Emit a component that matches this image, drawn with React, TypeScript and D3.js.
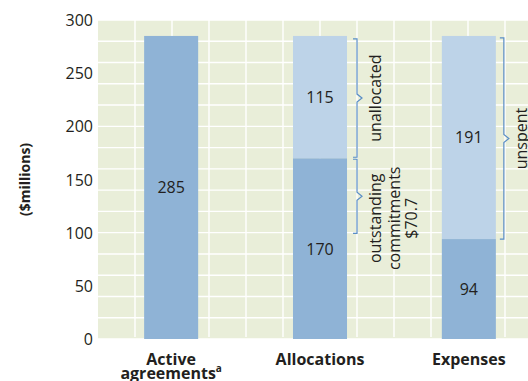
import React from "react";
import * as d3 from "d3";

// Funding overview ($ millions)
const categories = ["Active agreements", "Allocations", "Expenses"];
const lowerValues = [285, 170, 94]; // darker, lower segment
const upperValues = [0, 115, 191]; // lighter, upper segment
const yTicks = [0, 50, 100, 150, 200, 250, 300];
const categoryLines = [["Active", "agreements"], ["Allocations"], ["Expenses"]];
const outstandingCommitments = 70.7;

const W = 528;
const H = 381;
const plot = { left: 98, right: 528, top: 20, bottom: 339 };
const gridStep = 37;

const darkBlue = "#8fb3d6";
const lightBlue = "#bdd3e8";
const bgColor = "#e9eed9";
const braceColor = "#5a8ec6";
const textColor = "#231f20";
const font = "'Open Sans', 'Noto Sans', sans-serif";

function bracePath(x: number, y1: number, y2: number): string {
  const mid = (y1 + y2) / 2;
  const hook = 4;
  const tip = 5;
  return [
    `M${x - hook},${y1}`,
    `L${x},${y1}`,
    `L${x},${mid - 4}`,
    `L${x + tip},${mid}`,
    `L${x},${mid + 4}`,
    `L${x},${y2}`,
    `L${x - hook},${y2}`,
  ].join(" ");
}

export default function App() {
  const y = d3.scaleLinear().domain([0, 300]).range([plot.bottom, plot.top]);
  const x = d3
    .scaleBand<string>()
    .domain(categories)
    .range([98, 542])
    .paddingInner(0.637)
    .paddingOuter(0.31);
  const bw = x.bandwidth();

  const hGrid = y.ticks(12);
  const vGrid = d3.range(plot.left + gridStep, plot.right, gridStep);

  const alloc = categories[1];
  const expn = categories[2];
  const allocRight = (x(alloc) ?? 0) + bw;
  const expRight = (x(expn) ?? 0) + bw;
  const allocBraceX = allocRight + 10;
  const expBraceX = expRight + 8;

  const allocTop = lowerValues[1] + upperValues[1];
  const expTop = lowerValues[2] + upperValues[2];

  const unallocY1 = y(allocTop) + 3;
  const unallocY2 = y(lowerValues[1]) - 1;
  const commitY1 = y(lowerValues[1]) + 1;
  const commitY2 = y(lowerValues[1] - outstandingCommitments);
  const unspentY1 = y(expTop) + 2;
  const unspentY2 = y(lowerValues[2]);

  const commitTextY = (commitY1 + commitY2) / 2 + 22;

  return (
    <svg
      width={W}
      height={H}
      style={{ position: "absolute", left: 0, top: 0, background: "#fff" }}
      fontFamily={font}
    >
      <rect
        x={plot.left}
        y={plot.top}
        width={plot.right - plot.left}
        height={plot.bottom - plot.top}
        fill={bgColor}
      />
      {hGrid.map((t) => (
        <line
          key={"h" + t}
          x1={plot.left}
          x2={plot.right}
          y1={y(t)}
          y2={y(t)}
          stroke="#fff"
          strokeWidth={1.4}
        />
      ))}
      {vGrid.map((gx) => (
        <line
          key={"v" + gx}
          x1={gx}
          x2={gx}
          y1={plot.top}
          y2={plot.bottom - 2}
          stroke="#fff"
          strokeWidth={1.4}
        />
      ))}

      {categories.map((c, i) => {
        const bx = x(c) ?? 0;
        const lo = lowerValues[i];
        const up = upperValues[i];
        return (
          <g key={c}>
            <rect x={bx} y={y(lo)} width={bw} height={y(0) - y(lo)} fill={darkBlue} />
            {up > 0 && (
              <rect x={bx} y={y(lo + up)} width={bw} height={y(lo) - y(lo + up)} fill={lightBlue} />
            )}
            <text
              x={bx + bw / 2}
              y={(y(0) + y(lo)) / 2}
              textAnchor="middle"
              dominantBaseline="central"
              fontSize={16}
              fill={textColor}
            >
              {lo}
            </text>
            {up > 0 && (
              <text
                x={bx + bw / 2}
                y={(y(lo) + y(lo + up)) / 2}
                textAnchor="middle"
                dominantBaseline="central"
                fontSize={16}
                fill={textColor}
              >
                {up}
              </text>
            )}
          </g>
        );
      })}

      {/* y axis tick labels */}
      {yTicks.map((t) => (
        <text
          key={"t" + t}
          x={93}
          y={y(t)}
          textAnchor="end"
          dominantBaseline="central"
          fontSize={16}
          fill={textColor}
        >
          {t}
        </text>
      ))}
      <text
        transform={`translate(24.5,${(plot.top + plot.bottom) / 2}) rotate(-90)`}
        textAnchor="middle"
        dominantBaseline="central"
        fontSize={14}
        fontWeight="bold"
        fill={textColor}
      >
        ($millions)
      </text>

      {/* category labels */}
      {categories.map((c, i) => {
        const cx = (x(c) ?? 0) + bw / 2;
        const lines = categoryLines[i];
        return (
          <text key={"c" + c} x={cx} textAnchor="middle" fontSize={16} fontWeight="bold" fill={textColor}>
            {lines.map((ln, j) => (
              <tspan key={j} x={cx} y={365 + j * 14}>
                {ln}
                {lines.length > 1 && j === lines.length - 1 && (
                  <tspan fontSize={10} dy={-7}>
                    a
                  </tspan>
                )}
              </tspan>
            ))}
          </text>
        );
      })}

      {/* braces and annotations */}
      <g fill="none" stroke={braceColor} strokeWidth={1.2}>
        <path d={bracePath(allocBraceX, unallocY1, unallocY2)} />
        <path d={bracePath(allocBraceX, commitY1, commitY2)} />
        <path d={bracePath(expBraceX, unspentY1, unspentY2)} />
      </g>
      <text
        transform={`translate(${allocBraceX + 18},${(unallocY1 + unallocY2) / 2}) rotate(-90)`}
        textAnchor="middle"
        dominantBaseline="central"
        fontSize={16}
        fill={textColor}
      >
        unallocated
      </text>
      <text
        transform={`translate(${allocBraceX + 18},${commitTextY}) rotate(-90)`}
        textAnchor="middle"
        fontSize={16}
        fill={textColor}
      >
        <tspan x={0} y={0} dominantBaseline="central">outstanding</tspan>
        <tspan x={0} y={19} dominantBaseline="central">commitments</tspan>
        <tspan x={0} y={36} dominantBaseline="central">${outstandingCommitments}</tspan>
      </text>
      <text
        transform={`translate(${expBraceX + 17},${(unspentY1 + unspentY2) / 2}) rotate(-90)`}
        textAnchor="middle"
        dominantBaseline="central"
        fontSize={16}
        fill={textColor}
      >
        unspent
      </text>
    </svg>
  );
}
